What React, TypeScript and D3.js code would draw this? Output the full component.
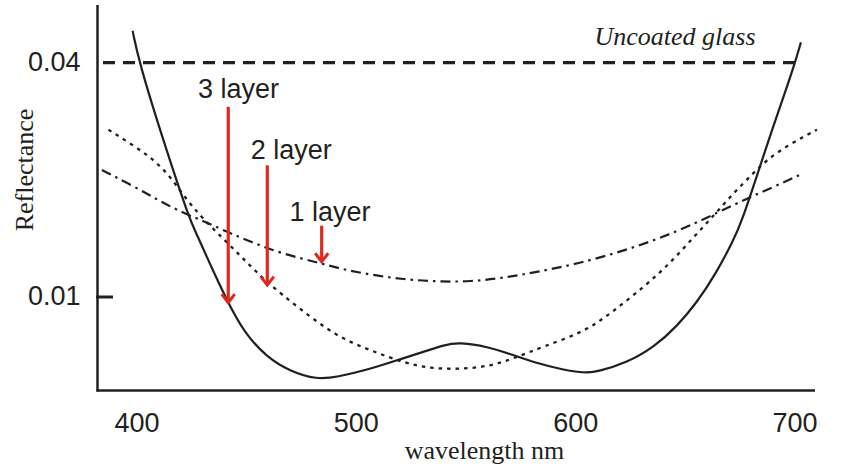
import React from 'react';
import * as d3 from 'd3';

// Axis ticks
const xTicks = [400, 500, 600, 700];
const yTicks = [0.01, 0.04];
const yTickLabels = ['0.01', '0.04'];
const yTickMarks = [0.01];

// Uncoated glass reference (reflectance 4%)
const glassWavelengths = [384.5, 701];
const glassReflectance = 0.04;

// 3 layer coating (solid)
const wl3 = [398, 401, 412, 424, 427, 434, 441, 449, 459, 470, 482, 491, 506, 519, 531, 540, 547, 560, 570, 582, 595, 601, 605, 610, 623, 636, 646, 655, 664, 672, 676, 683.5, 690, 695.6, 700, 702.7];
const r3 = [0.0483, 0.04, 0.0252, 0.0158, 0.0146, 0.0119, 0.0098, 0.00808, 0.00702, 0.00643, 0.00614, 0.00622, 0.00652, 0.00689, 0.00724, 0.00753, 0.00765, 0.00745, 0.00714, 0.00676, 0.00649, 0.00642, 0.00639, 0.00643, 0.00676, 0.00745, 0.00839, 0.00963, 0.0115, 0.014, 0.0158, 0.0212, 0.0274, 0.0337, 0.04, 0.0451];

// 2 layer coating (dotted)
const wl2 = [387, 397, 406, 414, 421, 429, 440, 449, 459, 473, 491, 506, 522, 534, 546, 560, 572, 585, 604, 616, 631, 643, 654, 663, 672, 681, 687, 698, 710];
const r2 = [0.0269, 0.0248, 0.0229, 0.0208, 0.0183, 0.0161, 0.014, 0.01245, 0.01093, 0.00944, 0.00791, 0.00731, 0.00676, 0.00656, 0.00652, 0.00662, 0.00696, 0.00745, 0.00814, 0.00908, 0.0106, 0.0122, 0.0143, 0.0162, 0.0185, 0.0208, 0.0225, 0.0248, 0.0269];

// 1 layer coating (dash-dot)
const wl1 = [384, 397, 408.4, 419.6, 431.9, 442.4, 450.2, 465.2, 484.2, 491.2, 506.4, 521.6, 536.8, 552, 567.2, 582.4, 600.6, 623.4, 646.2, 665.9, 677.9, 690.1, 702.3];
const r1 = [0.0212, 0.01946, 0.0179, 0.01657, 0.01554, 0.01458, 0.014, 0.01295, 0.0122, 0.01187, 0.0114, 0.0111, 0.01095, 0.01095, 0.0112, 0.0116, 0.01216, 0.0132, 0.0147, 0.0166, 0.01788, 0.01917, 0.0206];

// Annotation arrows
const arrowLabels = ['3 layer', '2 layer', '1 layer'];
const arrowWavelength = [441.6, 459.4, 484.2];
const arrowFrom = [0.0308, 0.0218, 0.01525];
const arrowTo = [0.00967, 0.01073, 0.01232];
const labelWavelength = [446.3, 470.3, 488.0];
const labelReflectance = [0.0324, 0.0226, 0.0157];

const glassLabel = 'Uncoated glass';
const glassLabelWavelength = 645.3;
const glassLabelReflectance = 0.0444;

const xTitle = 'wavelength nm';
const yTitle = 'Reflectance';

export default function App() {
  const W = 849;
  const H = 470;
  const x = d3.scaleLinear().domain([400, 700]).range([137, 795]);
  const y = d3.scaleLog().domain([0.01, 0.04]).range([297, 62.7]);

  const axisLeft = 97.5;
  const axisTop = 5;
  const axisBottom = 390.5;
  const axisRight = 815;

  const ink = '#231f20';
  const red = '#dd2a1f';
  const sans = '"Liberation Sans", Arial, Helvetica, sans-serif';
  const serif = '"Liberation Serif", "Times New Roman", serif';

  const line = d3
    .line<[number, number]>()
    .x((d) => x(d[0]))
    .y((d) => y(d[1]))
    .curve(d3.curveBasis);

  const s3 = line(wl3.map((w, i) => [w, r3[i]]));
  const s2 = line(wl2.map((w, i) => [w, r2[i]]));
  const s1 = line(wl1.map((w, i) => [w, r1[i]]));

  return (
    <svg
      width={W}
      height={H}
      style={{ position: 'absolute', left: 0, top: 0, background: '#fff' }}
    >
      {/* curves */}
      <path d={s1 || ''} fill="none" stroke={ink} strokeWidth={2.2} strokeDasharray="10 5 2.5 5" />
      <path d={s2 || ''} fill="none" stroke={ink} strokeWidth={2.3} strokeDasharray="3.5 5" />
      <path d={s3 || ''} fill="none" stroke={ink} strokeWidth={2.2} />

      {/* uncoated glass line */}
      <line
        x1={x(glassWavelengths[0])}
        x2={x(glassWavelengths[1])}
        y1={y(glassReflectance)}
        y2={y(glassReflectance)}
        stroke={ink}
        strokeWidth={3.2}
        strokeDasharray="12 8"
      />
      <text
        x={x(glassLabelWavelength)}
        y={y(glassLabelReflectance)}
        textAnchor="middle"
        fontFamily={serif}
        fontStyle="italic"
        fontSize={26}
        fill={ink}
      >
        {glassLabel}
      </text>

      {/* axes */}
      <line x1={axisLeft} x2={axisLeft} y1={axisTop} y2={axisBottom + 1} stroke={ink} strokeWidth={2.5} />
      <line x1={axisLeft - 1} x2={axisRight} y1={axisBottom} y2={axisBottom} stroke={ink} strokeWidth={2.5} />

      {yTickMarks.map((v) => (
        <line key={'tm' + v} x1={axisLeft - 1.5} x2={113} y1={y(v)} y2={y(v)} stroke={ink} strokeWidth={3} />
      ))}
      {yTicks.map((v, i) => (
        <text
          key={'yt' + v}
          x={80.5}
          y={y(v) + 8}
          textAnchor="end"
          fontFamily={sans}
          fontSize={27}
          fill={ink}
        >
          {yTickLabels[i]}
        </text>
      ))}
      {xTicks.map((v) => (
        <text
          key={'xt' + v}
          x={x(v)}
          y={431.7}
          textAnchor="middle"
          fontFamily={sans}
          fontSize={27}
          fill={ink}
        >
          {v}
        </text>
      ))}

      <text x={484.5} y={459} textAnchor="middle" fontFamily={serif} fontSize={26} fill={ink}>
        {xTitle}
      </text>
      <text
        transform="translate(33,170) rotate(-90)"
        textAnchor="middle"
        fontFamily={serif}
        fontSize={26}
        fill={ink}
      >
        {yTitle}
      </text>

      {/* arrows */}
      {arrowLabels.map((lab, i) => {
        const ax = x(arrowWavelength[i]);
        const y0 = y(arrowFrom[i]);
        const y1 = y(arrowTo[i]);
        return (
          <g key={lab}>
            <line x1={ax} x2={ax} y1={y0} y2={y1 - 1} stroke={red} strokeWidth={3.2} />
            <path
              d={`M${ax - 6.5},${y1 - 8.5} L${ax},${y1} L${ax + 6.5},${y1 - 8.5}`}
              fill="none"
              stroke={red}
              strokeWidth={3}
            />
            <text
              x={x(labelWavelength[i])}
              y={y(labelReflectance[i])}
              textAnchor="middle"
              fontFamily={sans}
              fontSize={27}
              fill={ink}
            >
              {lab}
            </text>
          </g>
        );
      })}
    </svg>
  );
}
